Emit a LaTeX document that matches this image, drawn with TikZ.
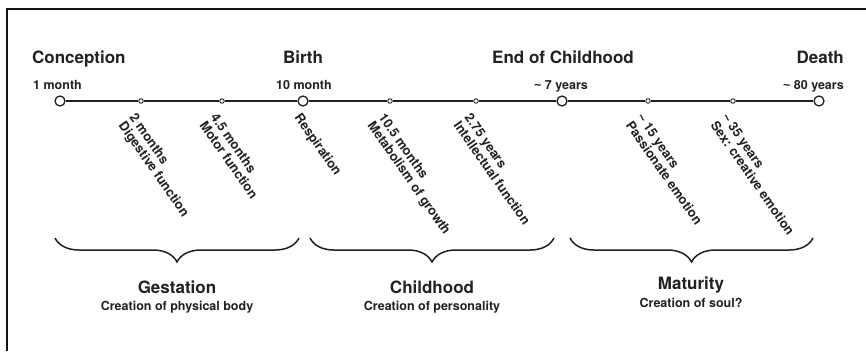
\documentclass[tikz,border=0pt]{standalone}
\usepackage{fontspec}
\setmainfont{TeX Gyre Heros}
\newfontfamily\tildefont{Liberation Sans}
\newcommand{\about}{{\tildefont\textasciitilde}~}
\usepackage{tikz}
\usetikzlibrary{calc, positioning, decorations.pathreplacing}
\definecolor{lifeink}{rgb}{0.13, 0.13, 0.13}
\definecolor{frameink}{rgb}{0.08, 0.08, 0.08}

\begin{document}
\begin{tikzpicture}[
x=1pt, y=-1pt,
texts/.style = {text=lifeink, inner sep=0pt},
milestone/.style = {texts, font=\fontsize{17}{20}\selectfont\bfseries},
agetext/.style = {texts, font=\fontsize{12.5}{15}\selectfont\bfseries},
eventtext/.style = {texts, font=\fontsize{13}{13.5}\selectfont\bfseries, align=left, rotate=-55, anchor=north west},
phasetext/.style = {texts, font=\fontsize{17}{20}\selectfont\bfseries, anchor=base},
phasesub/.style = {texts, font=\fontsize{12.5}{15}\selectfont\bfseries, anchor=base},
majornode/.style = {circle, draw=lifeink, fill=white, line width=1.3pt, minimum size=10pt, inner sep=0pt},
minornode/.style = {circle, draw=lifeink, fill=white, line width=0.9pt, minimum size=4.5pt, inner sep=0pt},
timeline/.style = {draw=lifeink, line width=2pt},
phasebrace/.style = {draw=lifeink, line width=1.5pt, decorate, decoration={brace, mirror, amplitude=24pt}}
]
\useasboundingbox (0,0) rectangle (866,351);
\draw[frameink, line width=1.5pt] (7,351) |- (866,9);

% main points of life
\node[majornode] (conc) at (60,101) {};
\node[majornode] (birth) at (303,101) {};
\node[majornode] (eoc) at (562,101) {};
\node[majornode] (death) at (819,101) {};
% organ functions
\node[minornode] (m1) at (141,101) {};
\node[minornode] (m2) at (222,101) {};
\node[minornode] (m3) at (390,101) {};
\node[minornode] (m4) at (476,101) {};
\node[minornode] (m5) at (648,101) {};
\node[minornode] (m6) at (733,101) {};

\draw[timeline] (conc) -- (m1) -- (m2) -- (birth) -- (m3) -- (m4) -- (eoc) -- (m5) -- (m6) -- (death);

\node[milestone, anchor=base west] (conctext) at (32,63) {Conception};
\node[agetext, anchor=base west] (concage) at (33,89) {1 month};
\node[milestone, anchor=base] (birthtext) at (303,63) {Birth};
\node[agetext, anchor=base] (birthage) at (304,89) {10 month};
\node[milestone, anchor=base] (eoctext) at (563,63) {End of Childhood};
\node[agetext, anchor=base] (eocage) at (561,89) {\about 7 years};
\node[milestone, anchor=base east] (deathtext) at (844,63) {Death};
\node[agetext, anchor=base east] (deathage) at (844,89) {\about 80 years};

\node[eventtext] (e1) at ($(m1)+(-4,11)$) {2 months\\Digestive function};
\node[eventtext] (e2) at ($(m2)+(-4,11)$) {4.5 months\\Motor function};
\node[eventtext] (eb) at ($(birth)+(-1,11)$) {Respiration};
\node[eventtext] (e3) at ($(m3)+(-4,11)$) {10.5 months\\Metabolism of growth};
\node[eventtext] (e4) at ($(m4)+(-4,11)$) {2.75 years\\Intellectual function};
\node[eventtext] (e5) at ($(m5)+(-4,11)$) {\about 15 years\\Passionate emotion};
\node[eventtext] (e6) at ($(m6)+(-4,11)$) {\about 35 years\\Sex: creative emotion};

% phases
\coordinate (gestL) at (55,238);
\coordinate (gestR) at (299,238);
\coordinate (childL) at (310,238);
\coordinate (childR) at (554,238);
\coordinate (matL) at (570,238);
\coordinate (matR) at (813,238);
\draw[phasebrace] (gestL) -- (gestR);
\draw[phasebrace] (childL) -- (childR);
\draw[phasebrace] (matL) -- (matR);

\node[phasetext] (gest) at (177,293) {Gestation};
\node[phasesub] (gestsub) at (177,310) {Creation of physical body};
\node[phasetext] (child) at (432,293) {Childhood};
\node[phasesub] (childsub) at (432,310) {Creation of personality};
\node[phasetext] (mat) at (691,289) {Maturity};
\node[phasesub] (matsub) at (691,307) {Creation of soul?};
\end{tikzpicture}
\end{document}
